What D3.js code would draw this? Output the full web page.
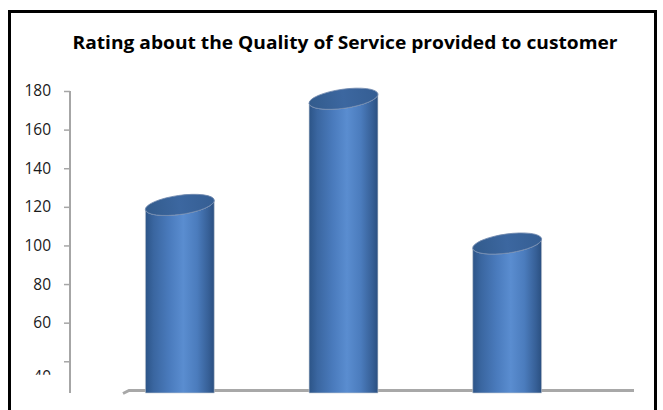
<!DOCTYPE html>
<html>
<head>
<meta charset="utf-8">
<script src="https://cdn.jsdelivr.net/npm/d3@7"></script>
<style>
  body { margin: 0; background: #fff; }
  svg { display: block; }
</style>
</head>
<body>
<svg id="chart" width="663" height="410"></svg>
<script>
// Chart data
const categories = ['A', 'B', 'C'];
const ratings = [121, 176, 101];
const tickValues = [40, 60, 80, 100, 120, 140, 160, 180];
const title = 'Rating about the Quality of Service provided to customer';

const svg = d3.select('#chart');
const defs = svg.append('defs');

// frame (bottom edge is cut off in the picture)
svg.append('rect')
  .attr('x', 9.5).attr('y', 11.5)
  .attr('width', 646).attr('height', 500)
  .attr('fill', '#fff')
  .attr('stroke', '#000')
  .attr('stroke-width', 3);

svg.append('text')
  .attr('x', 345).attr('y', 49)
  .attr('text-anchor', 'middle')
  .attr('font-family', '"Open Sans", sans-serif')
  .attr('font-weight', 'bold')
  .attr('font-size', 18.5)
  .attr('fill', '#000')
  .attr('textLength', 545)
  .attr('lengthAdjust', 'spacingAndGlyphs')
  .text(title);

// scales
const floorY = 392;
const yScale = d3.scaleLinear()
  .domain([0, 180])
  .range([438.5, 91]);

const xScale = d3.scaleBand()
  .domain(categories)
  .range([98, 589])
  .paddingInner(0.575)
  .paddingOuter(0.2875);

// y axis
const axisX = 70;
const yAxis = svg.append('g')
  .attr('transform', `translate(${axisX},0)`)
  .call(d3.axisLeft(yScale).tickValues(tickValues).tickSize(6).tickPadding(13));

yAxis.select('.domain').remove();
yAxis.append('line')
  .attr('x1', 0).attr('x2', 0)
  .attr('y1', yScale(180)).attr('y2', floorY + 1)
  .attr('stroke', '#a6a6a6').attr('stroke-width', 2);
yAxis.selectAll('.tick line').attr('stroke', '#a6a6a6').attr('stroke-width', 1.5);
yAxis.selectAll('.tick text')
  .attr('font-family', '"Open Sans", sans-serif')
  .attr('font-size', 15.5)
  .attr('fill', '#1a1a1a');

// the 40 label only shows its top edge in the picture
defs.append('clipPath').attr('id', 'clip40')
  .append('rect').attr('x', -70).attr('y', -30).attr('width', 70).attr('height', 43);
yAxis.selectAll('.tick').filter(d => d === 40).select('text')
  .attr('dy', 20)
  .attr('clip-path', 'url(#clip40)');

// floor line
svg.append('path')
  .attr('d', `M123,${floorY + 1.5} L129,${floorY - 1.5} L634,${floorY - 1.5}`)
  .attr('fill', 'none')
  .attr('stroke', '#a8a8a8')
  .attr('stroke-width', 3);

// cylinder gradients
const bodyGrad = defs.append('linearGradient').attr('id', 'bodyGrad')
  .attr('x1', '0%').attr('x2', '100%').attr('y1', '0%').attr('y2', '0%');
[
  [0, '#2c5487'], [0.12, '#3a66a0'], [0.35, '#4a7bbd'],
  [0.55, '#5a8dd0'], [0.75, '#4b7cbd'], [0.92, '#365f96'], [1, '#2a4f80']
].forEach(([o, c]) => bodyGrad.append('stop').attr('offset', o).attr('stop-color', c));

const topGrad = defs.append('linearGradient').attr('id', 'topGrad')
  .attr('x1', '0%').attr('x2', '100%').attr('y1', '0%').attr('y2', '0%');
[[0, '#325b8c'], [0.5, '#3c67a0'], [1, '#355e93']]
  .forEach(([o, c]) => topGrad.append('stop').attr('offset', o).attr('stop-color', c));

// cylinders
const rx = xScale.bandwidth() / 2;
const ry = 9.5;
const tilt = 8;
const rad = tilt * Math.PI / 180;

const bars = svg.append('g')
  .selectAll('g')
  .data(categories.map((c, i) => ({ cat: c, value: ratings[i] })))
  .enter().append('g');

bars.append('path')
  .attr('d', d => {
    const cx = xScale(d.cat) + rx;
    const cy = yScale(d.value);
    const lx = cx - rx * Math.cos(rad), ly = cy + rx * Math.sin(rad);
    const rxp = cx + rx * Math.cos(rad), ryp = cy - rx * Math.sin(rad);
    return `M${lx},${ly} L${lx},${floorY + 1} L${rxp},${floorY + 1} L${rxp},${ryp} ` +
      `A${rx},${ry} ${-tilt} 0 1 ${lx},${ly} Z`;
  })
  .attr('fill', 'url(#bodyGrad)')
  .attr('stroke', '#c8ccd4')
  .attr('stroke-width', 0.6);

bars.append('ellipse')
  .attr('cx', 0).attr('cy', 0)
  .attr('rx', rx).attr('ry', ry)
  .attr('transform', d => `translate(${xScale(d.cat) + rx},${yScale(d.value)}) rotate(${-tilt})`)
  .attr('fill', 'url(#topGrad)')
  .attr('stroke', '#6f88ad')
  .attr('stroke-width', 0.8);
</script>
</body>
</html>
